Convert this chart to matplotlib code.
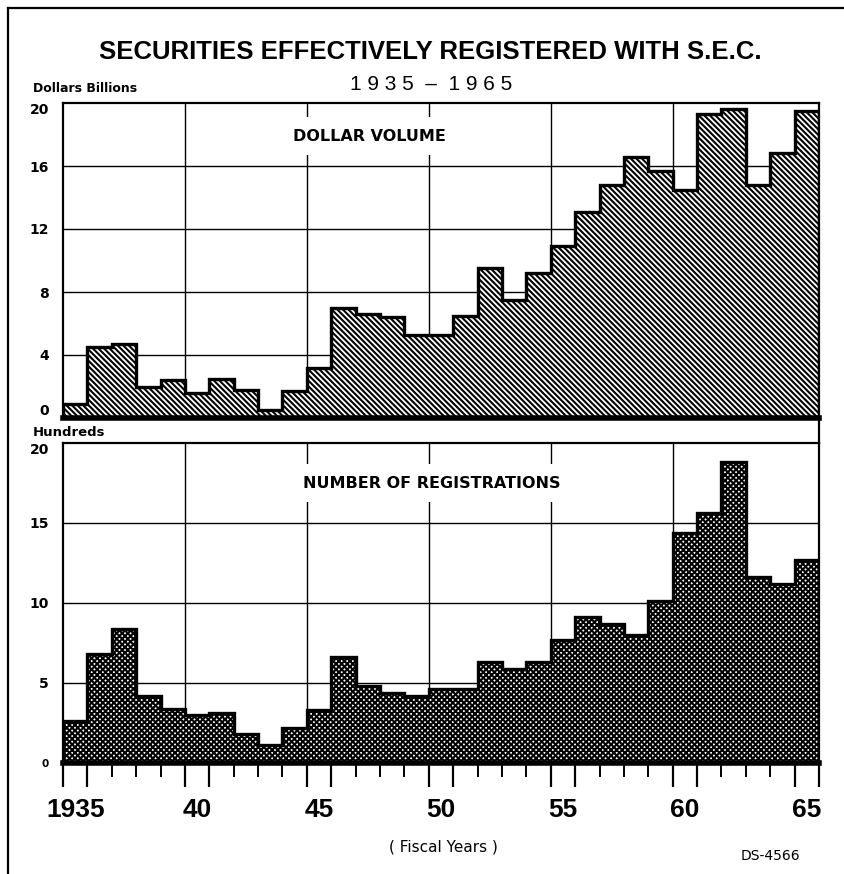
import numpy as np
import matplotlib
matplotlib.use("Agg")
import matplotlib.pyplot as plt
from matplotlib.lines import Line2D

# ---------------- data ----------------
years = list(range(1935, 1966))
dollar_volume = [0.9, 4.5, 4.7, 2.0, 2.4, 1.6, 2.5, 1.8, 0.5, 1.7,
                 3.2, 7.0, 6.6, 6.4, 5.3, 5.3, 6.5, 9.5, 7.5, 9.2,
                 10.9, 13.1, 14.8, 16.6, 15.7, 14.5, 19.3, 19.6, 14.8, 16.8,
                 19.5]
registrations = [2.6, 6.8, 8.4, 4.2, 3.4, 3.0, 3.1, 1.8, 1.1, 2.2,
                 3.3, 6.6, 4.8, 4.4, 4.2, 4.6, 4.6, 6.3, 5.9, 6.3,
                 7.7, 9.1, 8.7, 8.0, 10.1, 14.4, 15.6, 18.8, 11.6, 11.2,
                 12.7]
label_years = [1935, 1940, 1945, 1950, 1955, 1960, 1965]
year_labels = ["1935", "40", "45", "50", "55", "60", "65"]
top_yticks = [0, 4, 8, 12, 16, 20]
bottom_yticks = [0, 5, 10, 15, 20]

title = "SECURITIES EFFECTIVELY REGISTERED WITH S.E.C."
subtitle = "1 9 3 5  \u2013  1 9 6 5"

WIDE = ["DejaVu Sans"]
LIB = ["Liberation Sans", "DejaVu Sans"]

plt.rcParams["hatch.linewidth"] = 1.5

W, H = 845, 874
fig = plt.figure(figsize=(W / 100, H / 100), dpi=100)
fig.patch.set_facecolor("white")

yrs = np.array(years, dtype=float)
edges = np.append(yrs - 0.5, yrs[-1] + 0.5)
xlim = (edges[0], edges[-1])
grid_x = [y - 0.5 for y in label_years[1:-1]]


def px_axes(left, top, right, bottom):
    return fig.add_axes([left / W, 1 - bottom / H, (right - left) / W, (bottom - top) / H])


def setup(ax, values, hatch, yticks):
    ax.set_xlim(*xlim)
    ax.set_ylim(0, 20)
    ax.set_axisbelow(True)
    for gy in yticks[1:-1]:
        ax.axhline(gy, color="black", lw=1.0, zorder=0)
    for gx in grid_x:
        ax.axvline(gx, color="black", lw=1.0, zorder=0)
    ax.bar(yrs, values, width=1.0, facecolor="white", edgecolor="black",
           linewidth=0, hatch=hatch, zorder=2)
    ax.stairs(values, edges, baseline=0, fill=False, color="black",
              linewidth=2.4, zorder=3)
    ax.set_yticks(yticks)
    ax.set_yticklabels([str(v) for v in yticks], fontfamily=WIDE,
                       fontweight="bold", fontsize=10)
    ax.tick_params(axis="y", length=0, pad=10)
    ax.get_yticklabels()[-1].set_verticalalignment("top")
    for s in ["left", "right", "top"]:
        ax.spines[s].set_linewidth(1.6)
    ax.spines["bottom"].set_linewidth(4)


ax1 = px_axes(63, 103, 819, 418)
setup(ax1, dollar_volume, "\\" * 6, top_yticks)
ax1.set_xticks([])
ax1.get_yticklabels()[0].set_verticalalignment("bottom")

ax2 = px_axes(63, 443, 819, 763)
setup(ax2, registrations, "x" * 6, bottom_yticks)
ax2.get_yticklabels()[0].set_fontsize(7.5)

# tick marks along bottom axis: long ones bracket the labelled years
long_ticks = sorted(set([y - 0.5 for y in label_years] + [y + 0.5 for y in label_years]))
short_ticks = [e for e in edges if e not in long_ticks]
ax2.set_xticks(long_ticks)
ax2.set_xticklabels([])
ax2.set_xticks(short_ticks, minor=True)
ax2.tick_params(axis="x", which="major", length=17, width=1.6, direction="out")
ax2.tick_params(axis="x", which="minor", length=10, width=1.4, direction="out")

sec = ax2.secondary_xaxis("bottom")
sec.set_xticks(label_years)
sec.set_xticklabels(year_labels, fontfamily=LIB, fontweight="bold", fontsize=19)
sec.tick_params(length=0, pad=25)
sec.spines["bottom"].set_visible(False)

# panel titles
ax1.text(0.406, 0.895, "DOLLAR VOLUME", transform=ax1.transAxes, ha="center",
         va="center", fontfamily=WIDE, fontweight="bold", fontsize=11.5,
         bbox=dict(facecolor="white", edgecolor="none", pad=8), zorder=4)
ax2.text(0.488, 0.875, "NUMBER OF REGISTRATIONS", transform=ax2.transAxes,
         ha="center", va="center", fontfamily=WIDE, fontweight="bold",
         fontsize=11.5, bbox=dict(facecolor="white", edgecolor="none", pad=8),
         zorder=4)

# figure texts
fig.text(430 / W, 1 - 52 / H, title, ha="center", va="center",
         fontfamily=LIB, fontweight="bold", fontsize=18.5)
fig.text(431 / W, 1 - 84 / H, subtitle, ha="center", va="center",
         fontfamily=LIB, fontsize=15)
fig.text(33 / W, 1 - 88 / H, "Dollars Billions", ha="left", va="center",
         fontfamily=WIDE, fontweight="bold", fontsize=9)
fig.text(33 / W, 1 - 433 / H, "Hundreds", ha="left", va="center",
         fontfamily=WIDE, fontweight="bold", fontsize=9.5)
fig.text(443 / W, 1 - 847 / H, "( Fiscal Years )", ha="center", va="center",
         fontfamily=WIDE, fontsize=11)
fig.text(770 / W, 1 - 856 / H, "DS-4566", ha="center", va="center",
         fontfamily=WIDE, fontsize=10)

# outer frame lines and connector between panels
fig.add_artist(Line2D([8 / W, 8 / W], [0, 1 - 8 / H], color="black", lw=1.6,
                      transform=fig.transFigure))
fig.add_artist(Line2D([8 / W, 1], [1 - 8 / H, 1 - 8 / H], color="black", lw=1.6,
                      transform=fig.transFigure))
fig.add_artist(Line2D([819 / W, 819 / W], [1 - 418 / H, 1 - 443 / H], color="black",
                      lw=1.6, transform=fig.transFigure))

fig.savefig("out.png", dpi=100, facecolor="white")
